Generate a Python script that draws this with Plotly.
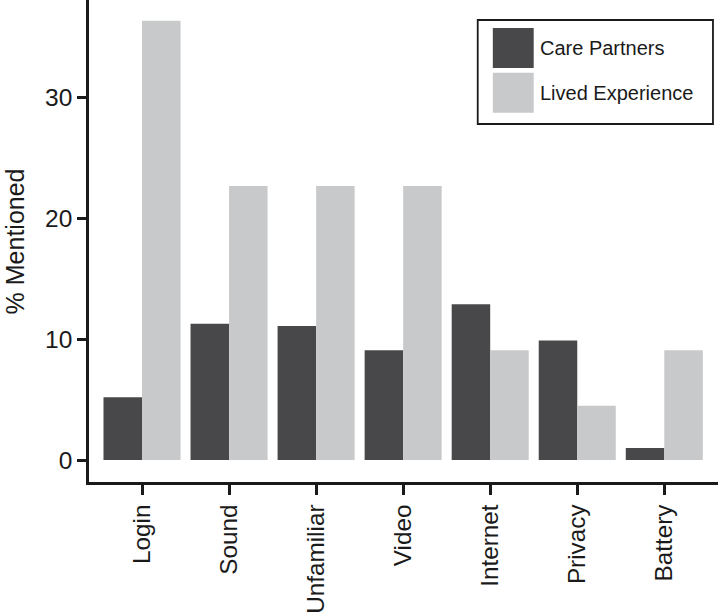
import plotly.graph_objects as go

categories = ["Login", "Sound", "Unfamiliar", "Video", "Internet", "Privacy", "Battery"]
care_partners = [5.2, 11.3, 11.1, 9.1, 12.9, 9.9, 1.0]
lived_experience = [36.4, 22.7, 22.7, 22.7, 9.1, 4.5, 9.1]
series_names = ["Care Partners", "Lived Experience"]
y_ticks = [0, 10, 20, 30]
y_title = "% Mentioned"

DARK = "#48484a"
LIGHT = "#c8c9cb"
FONT = "Liberation Sans, Arial, sans-serif"

fig = go.Figure()
fig.add_trace(go.Bar(x=categories, y=care_partners, name=series_names[0],
                     marker=dict(color=DARK, line=dict(width=0)), showlegend=False))
fig.add_trace(go.Bar(x=categories, y=lived_experience, name=series_names[1],
                     marker=dict(color=LIGHT, line=dict(width=0)), showlegend=False))

fig.update_layout(
    width=718, height=615,
    margin=dict(l=89, r=0, t=0, b=133),
    paper_bgcolor="white", plot_bgcolor="white",
    barmode="group", bargap=0.115, bargroupgap=0,
    font=dict(family=FONT, color="#1a1a1a", size=24),
)
fig.update_xaxes(
    range=[-0.609, 6.617], showline=True, linecolor="#1a1a1a", linewidth=2.5,
    ticks="outside", ticklen=10, tickwidth=2.5, tickcolor="#1a1a1a",
    tickangle=-90, tickfont=dict(size=24.3), automargin=False, showgrid=False,
)
fig.update_yaxes(
    range=[-1.82, 38.11], showline=True, linecolor="#1a1a1a", linewidth=2.5,
    ticks="outside", ticklen=9, tickwidth=2.5, tickcolor="#1a1a1a",
    tickvals=y_ticks, tickfont=dict(size=24.5), showgrid=False, zeroline=False,
    automargin=False,
)

# y-axis title
fig.add_annotation(xref="paper", yref="paper", x=-0.117, y=0.5, text=y_title,
                   textangle=-90, showarrow=False, xanchor="center", yanchor="middle",
                   borderpad=0, font=dict(size=25))

# custom legend
fig.add_shape(type="rect", xref="paper", yref="paper", x0=0.618, x1=0.992, y0=0.7427, y1=0.9585,
              line=dict(color="#1a1a1a", width=1.8), fillcolor="white")
fig.add_shape(type="rect", xref="paper", yref="paper", x0=0.642, x1=0.707, y0=0.859, y1=0.942,
              line=dict(width=0), fillcolor=DARK)
fig.add_shape(type="rect", xref="paper", yref="paper", x0=0.642, x1=0.707, y0=0.766, y1=0.849,
              line=dict(width=0), fillcolor=LIGHT)
fig.add_annotation(xref="paper", yref="paper", x=0.714, y=0.9004, text=series_names[0],
                   showarrow=False, xanchor="left", yanchor="middle", font=dict(size=20))
fig.add_annotation(xref="paper", yref="paper", x=0.714, y=0.807, text=series_names[1],
                   showarrow=False, xanchor="left", yanchor="middle", font=dict(size=20))

fig.write_html("out.html", config={"displayModeBar": False},
               post_script="document.body.style.margin='0';")
